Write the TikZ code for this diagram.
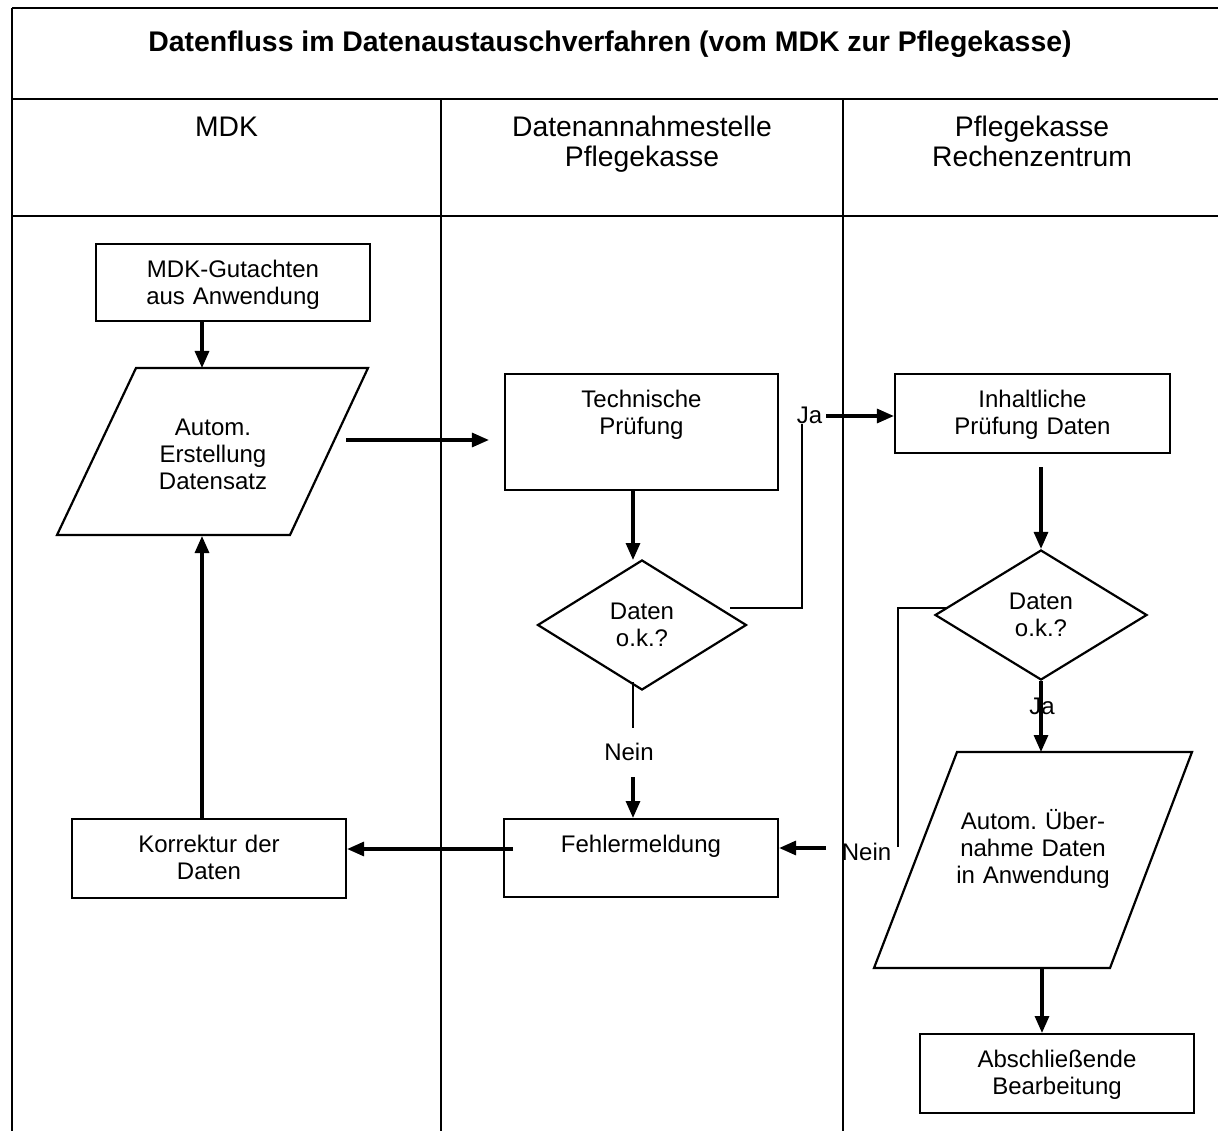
\documentclass[tikz,border=0pt]{standalone}
\usepackage{fontspec}
\setmainfont{Liberation Sans}
\usetikzlibrary{arrows.meta,shapes.geometric}
\frenchspacing
\newcommand\flowfont{\fontsize{24}{27}\selectfont}
\newcommand\hdrfont{\fontsize{28.3}{30}\selectfont}
\newcommand\ttlfont{\fontsize{28.4}{32}\selectfont\bfseries}
\begin{document}
\begin{tikzpicture}[x=1pt,y=-1pt,
  frame/.style={line width=2.8pt},
  shapeline/.style={draw, line width=2.2pt},
  flowbox/.style={shapeline, rectangle, anchor=north, align=center, inner sep=0pt, font=\flowfont, text height=33pt},
  ptext/.style={align=center, inner sep=0pt, font=\flowfont, anchor=north, text height=18pt, text depth=59pt},
  decision/.style={shapeline, diamond, inner sep=0pt, align=center, font=\flowfont, text width=80pt, minimum height=130pt},
  arr/.style={line width=3.2pt, -{Triangle[length=17pt,width=14pt]}},
  conn/.style={line width=2.2pt},
  lbl/.style={inner sep=0pt, font=\flowfont, anchor=base},
  hdr/.style={inner sep=0pt, font=\hdrfont, anchor=base, align=center, text width=380pt}]
\useasboundingbox (0,0) rectangle (1218,1131);
\fill[white] (0,0) rectangle (1218,1131);

% table frame
\draw[frame] (12,8) -- (1218,8);
\draw[frame] (12,8) -- (12,1131);
\draw[frame] (12,99) -- (1218,99);
\draw[frame] (12,216) -- (1218,216);
\draw[frame] (441,99) -- (441,1131);
\draw[frame] (843,99) -- (843,1131);

% title and headers
\node[inner sep=0pt, font=\ttlfont, anchor=base] (title) at (610,52) {Datenfluss im Datenaustauschverfahren (vom MDK zur Pflegekasse)};
\node[hdr] (hmdk) at (226.5,137) {MDK};
\node[hdr] (hdas) at (642,137) {Datenannahmestelle\\Pflegekasse};
\node[hdr] (hrz) at (1032,137) {Pflegekasse\\Rechenzentrum};

% process boxes
\node[flowbox, text width=274pt, text depth=44pt] (gut) at (233,243) {MDK-Gutachten\\aus Anwendung};
\node[flowbox, text width=273pt, text depth=83pt] (tp) at (641.5,373) {Technische\\Prüfung};
\node[flowbox, text width=275pt, text depth=46pt] (ih) at (1032.5,373) {Inhaltliche\\Prüfung Daten};
\node[flowbox, text width=274pt, text depth=45pt] (fm) at (641,818) {Fehlermeldung};
\node[flowbox, text width=274pt, text depth=46pt] (kd) at (209,818) {Korrektur der\\Daten};
\node[flowbox, text width=274pt, text depth=46pt] (ab) at (1057,1033) {Abschließende\\Bearbeitung};

% decisions
\node[decision, minimum width=209pt] (d1) at (642,625) {Daten\\o.k.?};
\node[decision, minimum width=212pt] (d2) at (1041,615) {Daten\\o.k.?};

% parallelograms (data)
\draw[shapeline] (57,535) coordinate (p1bl) -- (136,368) coordinate (p1tl) -- (368,368) coordinate (p1tr) -- (290,535) coordinate (p1br) -- cycle;
\node[ptext, text width=170pt] (p1) at (213,417) {Autom.\\Erstellung\\Datensatz};
\draw[shapeline] (874,968) coordinate (p2bl) -- (957,752) coordinate (p2tl) -- (1192,752) coordinate (p2tr) -- (1110,968) coordinate (p2br) -- cycle;
\node[ptext, text width=220pt] (p2) at (1033,811) {Autom. Über-\\nahme Daten\\in Anwendung};

% connection points
\coordinate (c1) at (202,368);
\coordinate (c1b) at (202,536);
\coordinate (c2) at (346,440);
\coordinate (c3) at (633,560);
\coordinate (j1a) at (730,608);
\coordinate (j1b) at (802,608);
\coordinate (j1c) at (802,424);
\coordinate (j1d) at (826,416);
\coordinate (n2a) at (946,608);
\coordinate (n2b) at (898,608);
\coordinate (n2c) at (898,847);
\coordinate (n2d) at (826,848);
\coordinate (n1a) at (633,682);
\coordinate (n1b) at (633,728);
\coordinate (n1c) at (633,777);
\coordinate (k8) at (513,849);
\coordinate (a11) at (1042,968);

% labels
\node[lbl] (ja1) at (809.5,423) {Ja};
\node[lbl] (ja2) at (1042,714) {Ja};
\node[lbl] (nein1) at (629,760.7) {Nein};
\node[lbl] (nein2) at (866.5,860) {Nein};

% connectors
\draw[arr] (gut.south -| c1) -- (c1);
\draw[arr, shorten >=15pt] (c2) -- (tp.west |- c2);
\draw[arr] (tp.south -| c3) -- (c3);
\draw[conn] (j1a) -- (j1b) -- (j1c);
\draw[arr] (j1d) -- (ih.west |- j1d);
\draw[arr, shorten <=13pt] (ih.south -| d2.north) -- (d2.north);
\draw[conn] (n2a) -- (n2b) -- (n2c);
\draw[arr] (n2d) -- (fm.east |- n2d);
\draw[conn] (n1a) -- (n1b);
\draw[arr] (n1c) -- (n1c |- fm.north);
\draw[arr] (k8) -- (kd.east |- k8);
\draw[arr] (kd.north -| c1b) -- (c1b);
\draw[arr] (d2.south) -- (d2.south |- p2tl);
\draw[arr] (a11) -- (a11 |- ab.north);
\end{tikzpicture}
\end{document}
